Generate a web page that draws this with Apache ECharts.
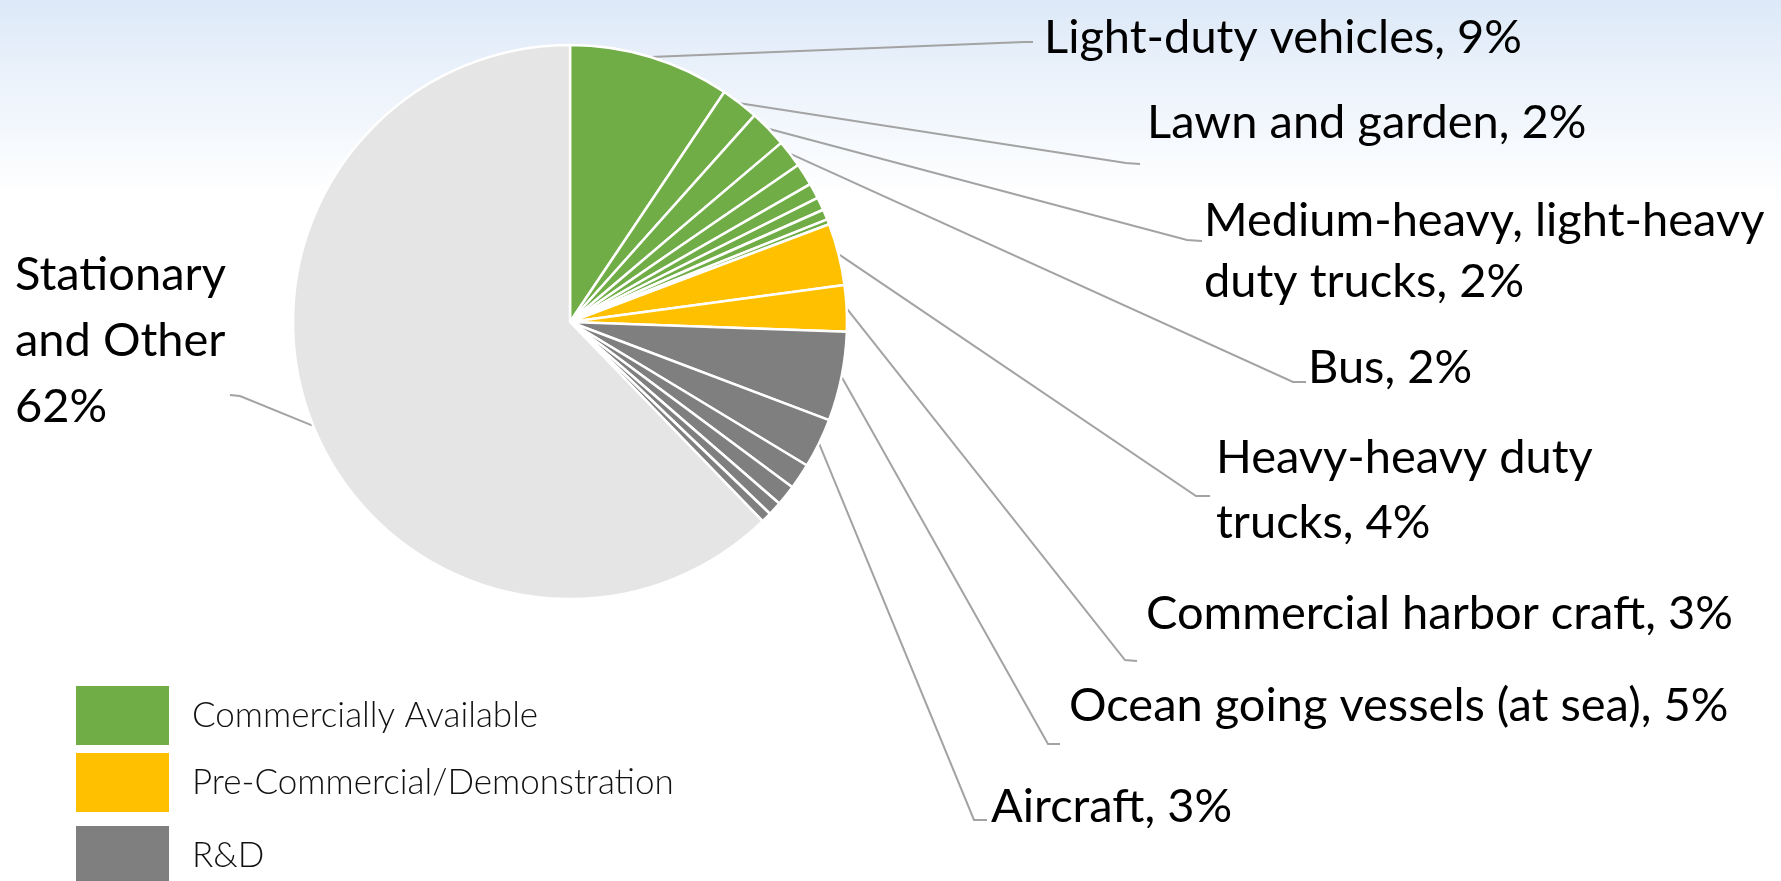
<!DOCTYPE html>
<html><head><meta charset="utf-8">
<script src="https://cdn.jsdelivr.net/npm/echarts@6/dist/echarts.min.js"></script>
<style>html,body{margin:0;padding:0;background:#fff}#c{width:1781px;height:881px}</style>
</head><body><div id="c"></div>
<script>
// ---------------- data ----------------
const categories = ['Commercially Available', 'Pre-Commercial/Demonstration', 'R&D', 'Stationary and Other'];
const sliceNames = [
  'Light-duty vehicles', 'Lawn and garden', 'Medium-heavy, light-heavy duty trucks', 'Bus',
  'Other commercially available A', 'Other commercially available B', 'Other commercially available C',
  'Other commercially available D', 'Other commercially available E',
  'Heavy-heavy duty trucks', 'Commercial harbor craft',
  'Ocean going vessels (at sea)', 'Aircraft', 'Other R&D A', 'Other R&D B', 'Other R&D C', 'Other R&D D',
  'Stationary and Other'
];
const sliceValues = [9.4, 2.2, 2.2, 1.6, 1.3, 0.9, 0.75, 0.6, 0.3, 3.6, 2.7, 5.2, 2.9, 1.5, 1.2, 0.8, 0.6, 62.2];
const sliceCategory = [0, 0, 0, 0, 0, 0, 0, 0, 0, 1, 1, 2, 2, 2, 2, 2, 2, 3];
const labelText = [
  'Light-duty vehicles', 'Lawn and garden', 'Medium-heavy, light-heavy\nduty trucks', 'Bus',
  null, null, null, null, null,
  'Heavy-heavy duty\ntrucks', 'Commercial harbor craft', 'Ocean going vessels (at sea)', 'Aircraft',
  null, null, null, null,
  'Stationary\nand Other'
];

// ---------------- style / layout ----------------
const categoryColors = ['#70ad47', '#ffc000', '#7f7f7f', '#e5e5e5'];
const LABEL_FS = 47;
const labelBoxes = {
  0:  { x: 1044, top: 10,    lh: 56,   elbow: [1024, 42],  end: [1033, 42] },
  1:  { x: 1147, top: 95,    lh: 56,   elbow: [1126, 163], end: [1140, 164] },
  2:  { x: 1204, top: 190,   lh: 61,   elbow: [1187, 240], end: [1202, 241] },
  3:  { x: 1308, top: 339.5, lh: 56,   elbow: [1293, 382], end: [1306, 382] },
  9:  { x: 1216, top: 425.5, lh: 65,   elbow: [1196, 496], end: [1210, 496] },
  10: { x: 1146, top: 585.5, lh: 56,   elbow: [1125, 660], end: [1137, 661] },
  11: { x: 1069, top: 677.5, lh: 56,   elbow: [1048, 744], end: [1060, 744] },
  12: { x: 991,  top: 779,   lh: 56,   elbow: [974, 820],  end: [987, 820] },
  17: { x: 15,   top: 242,   lh: 66,   elbow: [240, 396],  end: [230, 395] }
};
const FONT = 'Lato';

const pieData = sliceNames.map(function (name, i) {
  const box = labelBoxes[i];
  return {
    name: name,
    value: sliceValues[i],
    itemStyle: { color: categoryColors[sliceCategory[i]] },
    label: box ? { show: true, fontSize: LABEL_FS, lineHeight: box.lh } : { show: false },
    labelLine: { show: !!box }
  };
});

const legendSeries = categories.slice(0, 3).map(function (c, i) {
  return { type: 'pie', name: c, data: [], showEmptyCircle: false, itemStyle: { color: categoryColors[i] } };
});

const chart = echarts.init(document.getElementById('c'), null, { renderer: 'canvas' });
chart.setOption({
  backgroundColor: new echarts.graphic.LinearGradient(0, 0, 0, 1, [
    { offset: 0, color: '#dde9f8' },
    { offset: 0.22, color: '#ffffff' },
    { offset: 1, color: '#ffffff' }
  ]),
  animation: false,
  legend: categories.slice(0, 3).map(function (c, i) {
    return {
      data: [c], left: 71, top: [681, 748, 821][i], orient: 'vertical',
      icon: 'rect', itemWidth: 93, itemHeight: 59, selectedMode: false,
      textStyle: { fontFamily: FONT, fontSize: 35, fontWeight: 300, color: '#111', padding: [0, 0, 0, 18] }
    };
  }),
  series: [{
    type: 'pie',
    name: 'Emissions',
    center: [570, 322],
    radius: 277,
    startAngle: 90,
    clockwise: true,
    avoidLabelOverlap: false,
    itemStyle: { borderColor: '#ffffff', borderWidth: 2.5 },
    label: {
      position: 'outside', color: '#000', fontFamily: FONT, width: 760, overflow: 'none',
      formatter: function (p) {
        const t = labelText[p.dataIndex];
        const sep = p.dataIndex === sliceNames.length - 1 ? '\n' : ', ';
        return t + sep + Math.round(p.percent) + '%';
      }
    },
    labelLine: { show: true, length: 10, length2: 10, smooth: false, lineStyle: { color: '#a3a3a3', width: 2 } },
    labelLayout: function (p) {
      const box = labelBoxes[p.dataIndex];
      if (!box || !p.labelLinePoints) return {};
      return {
        x: box.x, y: box.top, align: 'left', verticalAlign: 'top',
        labelLinePoints: [p.labelLinePoints[0], box.elbow, box.end]
      };
    },
    emphasis: { disabled: true },
    data: pieData
  }].concat(legendSeries)
});
</script></body></html>
